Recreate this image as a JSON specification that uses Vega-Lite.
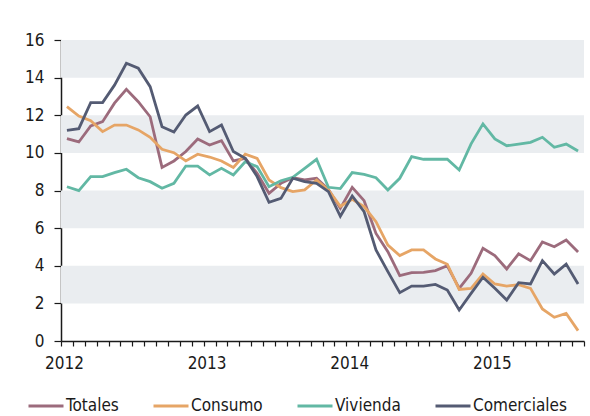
{
  "$schema": "https://vega.github.io/schema/vega-lite/v6.json",
  "width": 523,
  "height": 301,
  "autosize": "none",
  "padding": {"left": 61, "top": 40, "right": 6, "bottom": 75},
  "config": {
    "view": {"stroke": null},
    "font": "DejaVu Sans Condensed",
    "axis": {
      "labelFont": "DejaVu Sans Condensed",
      "labelFontSize": 17,
      "labelColor": "#1a1a1a",
      "domainColor": "#1a1a1a",
      "domainWidth": 1.5,
      "tickColor": "#1a1a1a",
      "tickWidth": 1.2,
      "grid": false,
      "title": null
    },
    "legend": {
      "labelFont": "DejaVu Sans Condensed",
      "labelFontSize": 17,
      "labelColor": "#1a1a1a"
    }
  },
  "layer": [
    {
      "data": {"values": [{"lo": 2, "hi": 4}, {"lo": 6, "hi": 8}, {"lo": 10, "hi": 12}, {"lo": 14, "hi": 16}]},
      "mark": {"type": "rect", "color": "#eaedf0"},
      "encoding": {
        "y": {"field": "lo", "type": "quantitative", "scale": {"domain": [0, 16], "nice": false},
              "axis": {"values": [0, 2, 4, 6, 8, 10, 12, 14, 16], "tickSize": 7, "labelPadding": 10, "title": null}},
        "y2": {"field": "hi"}
      }
    },
    {
      "data": {"values": [
        {"m": "2012-01", "Totales": 10.76, "Consumo": 12.46, "Vivienda": 8.2, "Comerciales": 11.2},
        {"m": "2012-02", "Totales": 10.58, "Consumo": 11.96, "Vivienda": 7.99, "Comerciales": 11.29},
        {"m": "2012-03", "Totales": 11.43, "Consumo": 11.71, "Vivienda": 8.74, "Comerciales": 12.67},
        {"m": "2012-04", "Totales": 11.66, "Consumo": 11.13, "Vivienda": 8.74, "Comerciales": 12.67},
        {"m": "2012-05", "Totales": 12.64, "Consumo": 11.48, "Vivienda": 8.95, "Comerciales": 13.6},
        {"m": "2012-06", "Totales": 13.38, "Consumo": 11.48, "Vivienda": 9.13, "Comerciales": 14.76},
        {"m": "2012-07", "Totales": 12.72, "Consumo": 11.22, "Vivienda": 8.68, "Comerciales": 14.5},
        {"m": "2012-08", "Totales": 11.92, "Consumo": 10.83, "Vivienda": 8.47, "Comerciales": 13.52},
        {"m": "2012-09", "Totales": 9.23, "Consumo": 10.19, "Vivienda": 8.12, "Comerciales": 11.39},
        {"m": "2012-10", "Totales": 9.57, "Consumo": 10.01, "Vivienda": 8.38, "Comerciales": 11.11},
        {"m": "2012-11", "Totales": 10.07, "Consumo": 9.57, "Vivienda": 9.3, "Comerciales": 12.01},
        {"m": "2012-12", "Totales": 10.74, "Consumo": 9.93, "Vivienda": 9.3, "Comerciales": 12.49},
        {"m": "2013-01", "Totales": 10.42, "Consumo": 9.78, "Vivienda": 8.83, "Comerciales": 11.13},
        {"m": "2013-02", "Totales": 10.65, "Consumo": 9.57, "Vivienda": 9.18, "Comerciales": 11.48},
        {"m": "2013-03", "Totales": 9.57, "Consumo": 9.22, "Vivienda": 8.83, "Comerciales": 10.07},
        {"m": "2013-04", "Totales": 9.71, "Consumo": 9.93, "Vivienda": 9.53, "Comerciales": 9.71},
        {"m": "2013-05", "Totales": 8.91, "Consumo": 9.71, "Vivienda": 9.27, "Comerciales": 8.74},
        {"m": "2013-06", "Totales": 7.85, "Consumo": 8.56, "Vivienda": 8.2, "Comerciales": 7.37},
        {"m": "2013-07", "Totales": 8.38, "Consumo": 8.15, "Vivienda": 8.52, "Comerciales": 7.58},
        {"m": "2013-08", "Totales": 8.68, "Consumo": 7.94, "Vivienda": 8.7, "Comerciales": 8.65},
        {"m": "2013-09", "Totales": 8.56, "Consumo": 8.03, "Vivienda": 9.18, "Comerciales": 8.47},
        {"m": "2013-10", "Totales": 8.65, "Consumo": 8.56, "Vivienda": 9.66, "Comerciales": 8.38},
        {"m": "2013-11", "Totales": 8.06, "Consumo": 8.03, "Vivienda": 8.17, "Comerciales": 7.94},
        {"m": "2013-12", "Totales": 7.05, "Consumo": 7.16, "Vivienda": 8.1, "Comerciales": 6.63},
        {"m": "2014-01", "Totales": 8.17, "Consumo": 7.53, "Vivienda": 8.95, "Comerciales": 7.71},
        {"m": "2014-02", "Totales": 7.46, "Consumo": 7.14, "Vivienda": 8.86, "Comerciales": 6.87},
        {"m": "2014-03", "Totales": 5.72, "Consumo": 6.34, "Vivienda": 8.68, "Comerciales": 4.84},
        {"m": "2014-04", "Totales": 4.75, "Consumo": 5.1, "Vivienda": 8.03, "Comerciales": 3.69},
        {"m": "2014-05", "Totales": 3.47, "Consumo": 4.54, "Vivienda": 8.65, "Comerciales": 2.57},
        {"m": "2014-06", "Totales": 3.63, "Consumo": 4.84, "Vivienda": 9.8, "Comerciales": 2.92},
        {"m": "2014-07", "Totales": 3.65, "Consumo": 4.84, "Vivienda": 9.66, "Comerciales": 2.92},
        {"m": "2014-08", "Totales": 3.74, "Consumo": 4.36, "Vivienda": 9.66, "Comerciales": 3.01},
        {"m": "2014-09", "Totales": 4.0, "Consumo": 4.08, "Vivienda": 9.66, "Comerciales": 2.71},
        {"m": "2014-10", "Totales": 2.8, "Consumo": 2.74, "Vivienda": 9.09, "Comerciales": 1.65},
        {"m": "2014-11", "Totales": 3.6, "Consumo": 2.8, "Vivienda": 10.48, "Comerciales": 2.53},
        {"m": "2014-12", "Totales": 4.93, "Consumo": 3.56, "Vivienda": 11.54, "Comerciales": 3.39},
        {"m": "2015-01", "Totales": 4.54, "Consumo": 3.03, "Vivienda": 10.74, "Comerciales": 2.8},
        {"m": "2015-02", "Totales": 3.83, "Consumo": 2.92, "Vivienda": 10.38, "Comerciales": 2.18},
        {"m": "2015-03", "Totales": 4.63, "Consumo": 2.99, "Vivienda": 10.47, "Comerciales": 3.1},
        {"m": "2015-04", "Totales": 4.27, "Consumo": 2.8, "Vivienda": 10.56, "Comerciales": 3.03},
        {"m": "2015-05", "Totales": 5.26, "Consumo": 1.7, "Vivienda": 10.83, "Comerciales": 4.27},
        {"m": "2015-06", "Totales": 5.01, "Consumo": 1.26, "Vivienda": 10.3, "Comerciales": 3.56},
        {"m": "2015-07", "Totales": 5.37, "Consumo": 1.47, "Vivienda": 10.47, "Comerciales": 4.09},
        {"m": "2015-08", "Totales": 4.73, "Consumo": 0.55, "Vivienda": 10.1, "Comerciales": 3.03}
      ]},
      "transform": [{"fold": ["Totales", "Consumo", "Vivienda", "Comerciales"], "as": ["serie", "valor"]}],
      "mark": {"type": "line", "strokeWidth": 2.8},
      "encoding": {
        "x": {
          "field": "m", "type": "ordinal", "bandPosition": 0.5,
          "scale": {"type": "band", "paddingInner": 0, "paddingOuter": 0},
          "axis": {
            "tickBand": "extent", "tickSize": 5, "labelPadding": 9, "labelAngle": 0,
            "labelOverlap": false, "labelOffset": -3, "title": null,
            "labelExpr": "substring(datum.value, 5, 7) == '01' ? substring(datum.value, 0, 4) : ''"
          }
        },
        "y": {"field": "valor", "type": "quantitative", "scale": {"domain": [0, 16], "nice": false},
              "axis": {"values": [0, 2, 4, 6, 8, 10, 12, 14, 16], "tickSize": 7, "labelPadding": 10, "title": null}},
        "color": {
          "field": "serie", "type": "nominal",
          "scale": {"domain": ["Totales", "Consumo", "Vivienda", "Comerciales"],
                    "range": ["#9c6b7c", "#e6a566", "#62b8a4", "#545b73"]},
          "legend": {
            "title": null, "orient": "none", "direction": "horizontal",
            "legendX": -34, "legendY": 347,
            "symbolType": "stroke", "symbolSize": 1225, "symbolStrokeWidth": 3,
            "labelOffset": 1, "columnPadding": 28
          }
        }
      }
    }
  ]
}
